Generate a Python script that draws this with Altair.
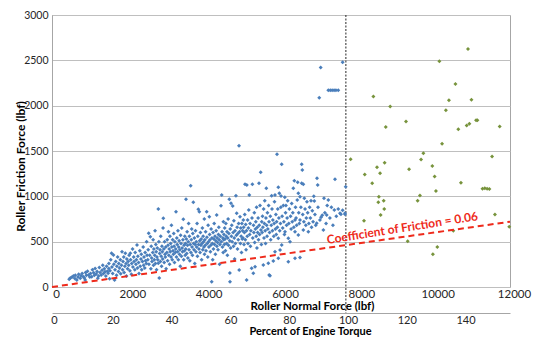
import altair as alt
import pandas as pd

# ---------------- axis values ----------------
x_ticks = [0, 2000, 4000, 6000, 8000, 10000, 12000]
y_ticks = [0, 500, 1000, 1500, 2000, 2500, 3000]
pct_ticks = [0, 20, 40, 60, 80, 100, 120, 140]
x_max = 12000
y_max = 3000
pct_max = 155.8          # percent of engine torque at 12000 lbf
full_torque_force = 7700 # 100 % engine torque
cof_x = [0, 12000]       # coefficient of friction 0.06 line
cof_y = [0, 720]
cof_label = "Coefficient of Friction  = 0.06"
cof_label_x = 9180
cof_label_y = 650

# ---------------- blue points (below 100 % torque) ----------------
blue_a = [(450,85),(480,100),(520,107),(560,120),(600,95),(610,130),(650,77),(680,110),(700,140),(740,96),
          (760,125),(790,150),(820,114),(850,100),(870,77),(880,160),(900,130),(930,175),(960,132),(990,110)]
blue_b = [(1010,150),(1040,114),(1060,190),(1090,158),(1110,130),(1130,205),(1160,143),(1180,170),(1200,96),
          (1220,120),(1240,215),(1260,160),(1290,132),(1310,185),(1330,240),(1350,150),(1370,200),(1390,169),
          (1410,120),(1430,230),(1450,175),(1470,151),(1490,260),(1490,205)]
blue_c = [(1510,92),(1520,180),(1540,300),(1560,372),(1570,220),(1590,150),(1610,353),(1620,250),(1640,77),
          (1650,190),(1670,280),(1690,130),(1700,230),(1720,330),(1740,170),(1750,260),(1770,210),(1790,300),
          (1800,145),(1820,240),(1834,390),(1850,190),(1860,280),(1880,330),(1890,160),(1910,230),(1921,372),
          (1940,260),(1950,120),(1960,310),(1980,200),(1995,280)]
blue_d = [(2010,240),(2020,350),(2040,180),(2052,372),(2060,300),(2080,140),(2090,260),(2110,420),(2120,220),
          (2140,330),(2150,280),(2170,190),(2180,380),(2200,250),(2210,300),(2227,463),(2240,210),(2250,340),
          (2270,270),(2280,150),(2300,400),(2310,230),(2330,310),(2340,360),(2350,190),(2370,280),(2390,440),
          (2400,240),(2410,330),(2430,210),(2440,380),(2450,290),(2470,260),(2480,500),(2490,350)]
blue_e = [(2510,300),(2520,410),(2533,592),(2540,250),(2560,350),(2576,555),(2590,200),(2600,450),(2610,320),
          (2620,280),(2640,380),(2650,520),(2660,240),(2670,420),(2680,300),(2690,350),(2700,620),(2710,260),
          (2720,470),(2730,390),(2740,190),(2750,330),(2760,430),(2770,300),(2785,261),(2786,860),(2800,500),
          (2810,100),(2820,370),(2830,410),(2840,280),(2850,560),(2860,340),(2870,230),(2880,450),(2890,390),
          (2900,310),(2910,650),(2917,758),(2930,420),(2940,270),(2950,500),(2960,360),(2970,330),(2980,440),
          (2990,200)]
blue_f = [(3010,380),(3020,520),(3030,290),(3040,460),(3050,610),(3060,350),(3070,420),(3080,250),(3090,560),
          (3100,390),(3110,480),(3120,330),(3130,680),(3140,440),(3150,300),(3160,520),(3170,400),(3180,360),
          (3190,590),(3200,450),(3210,270),(3220,500),(3230,380),(3240,420),(3249,831),(3260,330),(3270,540),
          (3280,470),(3290,390),(3300,620),(3310,300),(3320,440),(3330,510),(3340,360),(3350,410),(3360,230),
          (3370,570),(3380,480),(3390,340),(3400,650),(3410,430),(3420,390),(3430,520),(3441,747),(3450,300),
          (3460,460),(3470,400),(3480,560),(3490,350),(3495,480)]
blue_g = [(3505,420),(3511,967),(3520,530),(3530,370),(3540,610),(3550,460),(3560,320),(3570,500),(3580,700),
          (3590,410),(3600,560),(3610,290),(3620,470),(3634,1117),(3640,380),(3650,520),(3660,640),(3670,440),
          (3680,350),(3690,590),(3703,934),(3710,480),(3720,410),(3730,540),(3740,260),(3750,470),(3760,620),
          (3770,390),(3780,500),(3790,440),(3800,700),(3810,340),(3820,560),(3833,857),(3840,470),(3850,420),
          (3860,831),(3870,510),(3880,380),(3890,600),(3900,460),(3910,530),(3920,300),(3930,480),(3940,650),
          (3950,410),(3960,560),(3970,500),(3980,440),(3990,750),(3995,360)]
blue_h = [(4005,520),(4015,460),(4025,610),(4035,400),(4053,831),(4060,550),(4070,480),(4080,330),(4090,680),
          (4100,500),(4110,440),(4121,775),(4130,580),(4140,520),(4150,390),(4160,460),(4170,640),(4184,59),
          (4190,540),(4200,480),(4210,300),(4220,600),(4230,420),(4240,530),(4250,700),(4260,470),(4270,560),
          (4280,360),(4290,510),(4300,620),(4315,794),(4320,450),(4330,540),(4340,490),(4350,410),(4360,580),
          (4370,660),(4380,520),(4390,250),(4400,470),(4410,560),(4428,897),(4435,500),(4446,1015),(4455,610),
          (4465,440),(4475,540),(4485,380),(4490,720),(4498,520)]
blue_i = [(4505,580),(4515,470),(4525,650),(4535,530),(4545,400),(4555,700),(4565,560),(4575,480),(4585,610),
          (4595,350),(4605,540),(4615,750),(4625,460),(4635,590),(4645,967),(4655,510),(4660,155),(4664,59),
          (4670,640),(4680,430),(4690,923),(4700,560),(4710,680),(4720,500),(4734,893),(4745,600),(4755,450),
          (4765,730),(4775,540),(4785,310),(4795,620),(4805,480),(4820,1007),(4830,570),(4839,813),(4850,660),
          (4860,420),(4870,590),(4880,520),(4890,700),(4900,1559),(4905,187),(4915,610),(4926,775),(4935,480),
          (4945,650),(4955,560),(4965,380),(4975,700),(4985,530),(4995,620)]
blue_j = [(5005,540),(5012,739),(5020,660),(5030,470),(5040,600),(5050,800),(5057,1133),(5065,520),(5075,690),
          (5085,410),(5095,620),(5100,77),(5105,1125),(5115,560),(5125,740),(5135,480),(5145,650),(5155,850),
          (5170,1015),(5180,580),(5190,700),(5200,450),(5210,620),(5230,206),(5240,760),(5250,1133),(5260,540),
          (5275,151),(5280,680),(5290,600),(5300,820),(5310,490),(5320,224),(5330,640),(5340,720),(5350,560),
          (5360,880),(5370,430),(5380,660),(5390,600),(5400,760),(5410,520),(5423,1144),(5430,680),(5440,580),
          (5450,900),(5468,1265),(5475,630),(5485,470),(5495,720)]
blue_k = [(5505,600),(5515,780),(5525,660),(5537,243),(5545,860),(5555,540),(5565,700),(5575,950),(5585,620),
          (5595,480),(5605,760),(5615,1089),(5625,680),(5635,560),(5645,820),(5655,640),(5667,261),(5675,900),
          (5685,720),(5690,132),(5700,600),(5712,125),(5720,780),(5730,520),(5745,680),(5755,1007),(5765,860),
          (5775,620),(5785,740),(5798,287),(5810,560),(5820,700),(5830,940),(5843,1015),(5843,390),(5855,640),
          (5865,800),(5875,580),(5885,720),(5895,1464),(5905,660),(5915,860),(5930,537),(5930,316),(5930,1100),
          (5945,760),(5955,1034),(5965,620),(5975,408),(5985,700),(5995,880)]
blue_l = [(6000,1004),(6018,1353),(6018,463),(6030,780),(6045,650),(6060,900),(6075,720),(6090,580),(6100,990),
          (6105,610),(6120,820),(6130,900),(6145,680),(6160,760),(6175,950),(6191,537),(6191,279),(6205,700),
          (6220,860),(6236,500),(6250,780),(6265,640),(6280,920),(6295,720),(6310,820),(6322,1089),(6335,660),
          (6349,1173),(6367,316),(6367,610),(6367,739),(6380,880),(6395,760),(6410,680),(6425,960),(6437,1155),
          (6453,574),(6453,1034),(6465,820),(6480,700),(6498,996),(6498,324),(6498,739)]
blue_m = [(6520,880),(6542,1353),(6542,1144),(6558,1290),(6570,800),(6585,1133),(6585,629),(6600,720),(6611,978),
          (6630,860),(6650,680),(6663,760),(6680,940),(6700,820),(6716,610),(6730,700),(6750,880),(6770,760),
          (6786,952),(6800,660),(6820,840),(6840,720),(6860,1000),(6872,949),(6890,800),(6910,680),(6935,702),
          (6943,1199),(6961,1125),(6970,880)]
blue_n = [(7003,2088),(7040,2420),(7020,740),(7050,770),(7080,790),(7110,629),(7126,978),(7150,820),(7180,700),
          (7197,794),(7210,900),(7240,960),(7240,2170),(7290,2170),(7340,2170),(7390,2170),(7440,2170),(7500,2170),
          (7280,760),(7320,880),(7360,680),(7397,849),(7415,1188),(7450,780),(7500,860),(7546,813),(7570,802),
          (7615,846),(7615,2478),(7677,813),(7677,802),(7695,1106)]

# ---------------- green points (above 100 % torque) ----------------
green = [(10900,2625),(10150,2490),(10570,2240),(8420,2100),(10400,2060),(10990,2065),(8860,1990),(10320,1950),
         (9275,1825),(11110,1840),(11145,1840),(10935,1800),(10865,1780),(10645,1740),(8745,1765),(11730,1770),
         (10220,1580),(7825,1410),(9730,1475),(9670,1405),(11530,1440),(8715,1370),(8515,1320),(9355,1300),
         (9965,1335),(8195,1240),(8595,1255),(10025,1220),(8390,1145),(10715,1150),(10060,1060),(11280,1085),
         (11340,1088),(11400,1085),(11460,1080),(9640,1010),(8565,995),(8690,950),(8550,935),(9580,950),
         (8705,860),(8610,795),(11605,800),(8175,730),(11980,665),(10515,620),(9320,505),(10095,440),(9980,360)]

blue = (blue_a + blue_b + blue_c + blue_d + blue_e + blue_f + blue_g + blue_h + blue_i + blue_j
        + blue_k + blue_l + blue_m + blue_n)
blue_df = pd.DataFrame(blue, columns=["force", "friction"])
green_df = pd.DataFrame(green, columns=["force", "friction"])
cof_df = pd.DataFrame({"force": cof_x, "friction": cof_y})
label_df = pd.DataFrame({"force": [cof_label_x], "friction": [cof_label_y], "t": [cof_label]})
vline_df = pd.DataFrame({"force": [full_torque_force]})
pct_df = pd.DataFrame({"pct": pct_ticks})

FONT = "Lato"
xs = alt.Scale(domain=[0, x_max], nice=False, zero=True)
ys = alt.Scale(domain=[0, y_max], nice=False)

x_axis = alt.Axis(values=x_ticks, grid=False, ticks=False, domain=False, labelFlush=False,
                  labelOverlap=False, labelFont=FONT, labelFontSize=11.5, labelColor="#262626",
                  labelPadding=1, labelOffset=4, format="d",
                  titleFont=FONT, titleFontSize=11.5, titleFontWeight="bold", titleColor="#000000",
                  titleX=260, titleY=19, titleBaseline="middle", titleAlign="center")
y_axis = alt.Axis(values=y_ticks, grid=True, gridColor="#bfbfbf", gridWidth=1, ticks=False,
                  domain=True, domainColor="#a6a6a6", labelFont=FONT, labelFontSize=10.5,
                  labelColor="#262626", labelPadding=4, format="d",
                  titleFont=FONT, titleFontSize=12, titleFontWeight="bold", titleColor="#000000",
                  titleAngle=270, titleX=-32, titleY=151, titleAlign="center", titleBaseline="middle")

def X():
    return alt.X("force:Q", scale=xs, axis=x_axis, title="Roller Normal Force (lbf)")

def Y():
    return alt.Y("friction:Q", scale=ys, axis=y_axis, title="Roller Friction Force (lbf)")

vline = alt.Chart(vline_df).mark_rule(color="#262626", strokeDash=[2, 1.5], strokeWidth=1).encode(
    x=X(), y=alt.value(0), y2=alt.value(298))
blue_pts = alt.Chart(blue_df).mark_point(shape="diamond", filled=True, size=16, opacity=1,
                                         color="#4a7ebb").encode(x=X(), y=Y())
green_pts = alt.Chart(green_df).mark_point(shape="diamond", filled=True, size=16, opacity=1,
                                           color="#77933c").encode(x=X(), y=Y())
cof_line = alt.Chart(cof_df).mark_line(color="#ee2a1b", strokeDash=[6, 4], strokeWidth=2).encode(
    x=X(), y=Y())
cof_text = alt.Chart(label_df).mark_text(angle=351, color="#ee2a1b", font=FONT, fontSize=12,
                                         fontWeight="bold", align="center", baseline="middle").encode(
    x=X(), y=Y(), text="t:N")

main = alt.layer(vline, blue_pts, green_pts, cof_line, cof_text)

pct_axis = alt.Axis(orient="bottom", offset=26, values=pct_ticks, grid=False, ticks=False, domain=True,
                    domainColor="#a6a6a6", labelFlush=False, labelOverlap=False, labelFont=FONT,
                    labelFontSize=11, labelColor="#262626", labelPadding=1, labelOffset=2, format="d",
                    titleFont=FONT, titleFontSize=11, titleFontWeight="bold", titleColor="#000000",
                    titleX=258, titleY=18.5, titleBaseline="middle", titleAlign="center")
pct_layer = alt.Chart(pct_df).mark_point(opacity=0).encode(
    x=alt.X("pct:Q", scale=alt.Scale(domain=[0, pct_max], nice=False), axis=pct_axis,
            title="Percent of Engine Torque"))

chart = alt.layer(main, pct_layer).resolve_scale(x="independent").properties(
    width=458, height=272,
    padding={"left": 44, "top": 7, "right": 30, "bottom": 50},
    autosize=alt.AutoSizeParams(type="none"),
    background="white",
).configure_view(stroke="#a6a6a6", strokeWidth=1)

chart.save("out.html", embed_options={"renderer": "svg", "actions": False})
